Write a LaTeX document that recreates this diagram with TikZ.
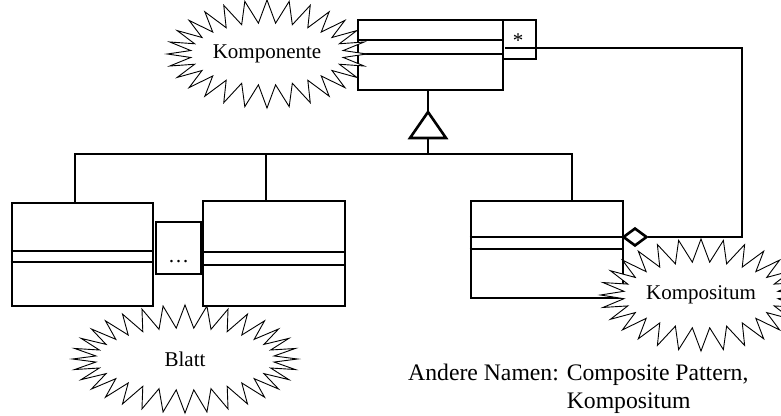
\documentclass[tikz,border=0pt]{standalone}
\usepackage{fontspec}
\setmainfont{Liberation Serif}
\usetikzlibrary{shapes.symbols,shapes.geometric}

\newcommand{\Abteil}[2]{\draw[linie] (#1.west |- 0,#2) -- (#1.east |- 0,#2);}

\begin{document}
\begin{tikzpicture}[x=1pt,y=-1pt,
  klasse/.style={draw,line width=2.6pt,inner sep=0pt},
  linie/.style={line width=2.6pt},
  blase/.style={starburst,draw,fill=white,line width=0.9pt,random starburst=0,
    starburst point height=23pt,inner sep=0pt,font=\fontsize{21}{25}\selectfont}]
\useasboundingbox (0,0) rectangle (781,415);

\node[klasse,minimum width=145pt,minimum height=70pt] (komponente) at (430.5,55) {};
\node[klasse,minimum width=33pt,minimum height=39pt] (stern) at (519.5,39.5) {};
\node[anchor=base,inner sep=0pt,font=\fontsize{21}{25}\selectfont] (sterntext) at (518,47) {*};
\Abteil{komponente}{40}
\Abteil{komponente}{54}

\node[klasse,minimum width=141pt,minimum height=103pt] (blatta) at (82.5,254.5) {};
\Abteil{blatta}{251}
\Abteil{blatta}{262}
\node[klasse,minimum width=45pt,minimum height=52pt] (punkte) at (178.5,248) {};
\node[anchor=base,inner sep=0pt,font=\fontsize{21}{25}\selectfont] (punktetext) at (178.5,262) {\ldots};
\node[klasse,minimum width=142pt,minimum height=105pt] (blattb) at (274,253.5) {};
\Abteil{blattb}{252}
\Abteil{blattb}{265}

\node[klasse,minimum width=152pt,minimum height=97pt] (kompositum) at (547,249.5) {};
\Abteil{kompositum}{237}
\Abteil{kompositum}{249}

\coordinate (spitze) at (428,112);
\coordinate (basis) at (428,138);
\coordinate (bus) at (428,154);
\draw[linie] (komponente.south -| spitze) -- (spitze);
\draw[linie,line join=miter] (spitze) -- (446,138) -- (410,138) -- cycle;
\draw[linie] (basis) -- (bus);
\draw[linie] ([xshift=-7.5pt]blatta.north) |- (bus) -| ([xshift=25pt]kompositum.north);
\draw[linie] ([xshift=-8pt]blattb.north) -- ([xshift=-8pt]blattb.north |- bus);

\node[diamond,draw,fill=white,line width=2.6pt,aspect=1.3,minimum width=24pt,minimum height=18pt,inner sep=0pt] (raute) at (635,237) {};
\coordinate (ecke) at (742,48);
\coordinate (sternlinks) at (505,48);
\draw[linie] (raute.east) -| (ecke) -- (sternlinks);

\node[blase,starburst points=28,minimum width=161pt,minimum height=108pt] (komponenteblase) at (267,54) {Komponente};
\node[blase,starburst points=32,minimum width=225pt,minimum height=108pt] (blattblase) at (185,359) {Blatt};
\node[blase,starburst points=28,minimum width=162pt,minimum height=112pt] (kompositumblase) at (701,295) {Kompositum};

\node[anchor=base west,inner sep=0pt,font=\fontsize{23.7}{28}\selectfont] (namen) at (408,380)
  {Andere Namen: \begin{tabular}[t]{@{}l@{}}Composite Pattern,\\Kompositum\end{tabular}};

\end{tikzpicture}
\end{document}
